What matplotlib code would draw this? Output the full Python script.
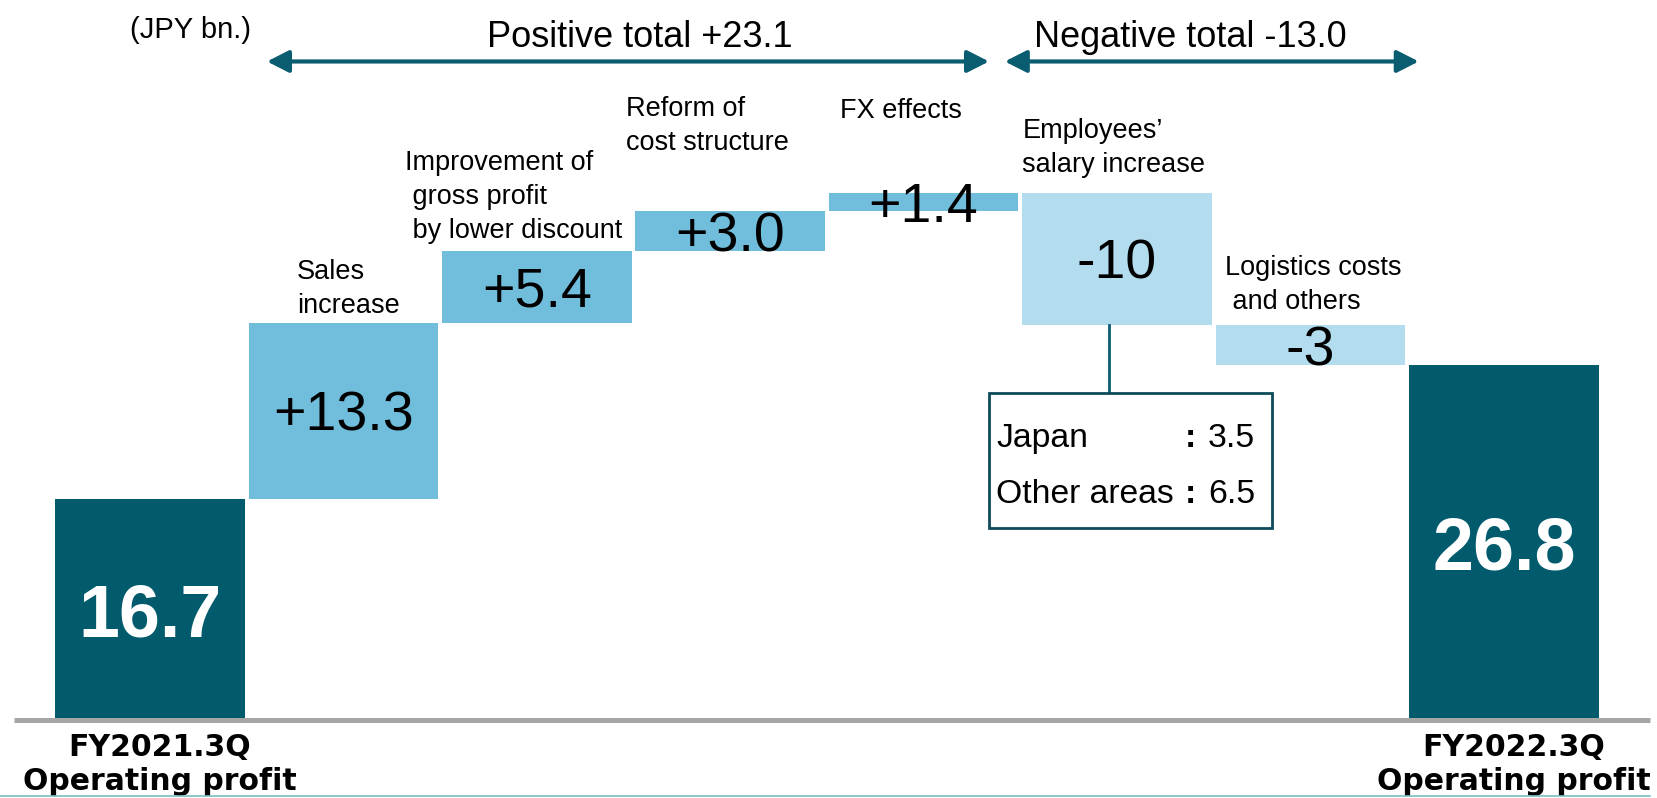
import numpy as np
import matplotlib.pyplot as plt
from matplotlib.patches import Rectangle

start_value = 16.7
end_value = 26.8
step_values = [13.3, 5.4, 3.0, 1.4, -10, -3]
step_texts = ["+13.3", "+5.4", "+3.0", "+1.4", "-10", "-3"]
step_labels = ["Sales\nincrease",
               "Improvement of\n gross profit\n by lower discount",
               "Reform of\ncost structure",
               "FX effects",
               "Employees\u2019\nsalary increase",
               "Logistics costs\n and others"]
# label offset from the bar's left edge / top (data units), last line baseline
label_dx = [0.25, -0.19, -0.05, 0.06, 0.0, 0.05]
label_dy = [0.72, 0.98, 4.62, 5.64, 1.56, 1.21]
end_labels = ["FY2021.3Q\nOperating profit", "FY2022.3Q\nOperating profit"]
salary_split = [("Japan", 3.5), ("Other areas", 6.5)]

dark = "#025b6c"
pos_col = "#70bedc"
neg_col = "#b3dcef"
arrow_col = "#0a5d70"
font = ["Liberation Sans", "DejaVu Sans"]

fig = plt.figure(figsize=(16.57, 7.98), dpi=100)
ax = fig.add_axes([0, 0, 1, 1])
ax.set_xlim(-0.7756, 7.792)
ax.set_ylim(-5.887, 54.34)
ax.axis("off")

w = 0.98
steps = np.array(step_values)
tops_cum = start_value + np.cumsum(steps)
prev = np.concatenate([[start_value], tops_cum[:-1]])
bottoms = np.minimum(prev, tops_cum)
heights = np.abs(steps)
xs = np.arange(1, len(steps) + 1)
colors = [pos_col if v > 0 else neg_col for v in steps]

ax.bar([0, len(steps) + 1], [start_value, end_value], width=w, color=dark)
ax.bar(xs, heights, bottom=bottoms, width=w, color=colors)

# base line
ax.plot([0.0085, 0.996], [0, 0], transform=ax.get_yaxis_transform(),
        color="#a6a6a6", lw=3.6, solid_capstyle="butt", zorder=3)
fig.add_artist(plt.Line2D([0, 0.996], [0.0025, 0.0025], color="#7fbcbc", lw=1.2))

for x, b, h, t in zip(xs, bottoms, heights, step_texts):
    ax.text(x, b + h / 2, t, ha="center", va="center_baseline",
            fontsize=40, family=font, color="black", zorder=4)

for i, (lab, dx, dy) in enumerate(zip(step_labels, label_dx, label_dy)):
    top = bottoms[i] + heights[i]
    ax.text(xs[i] - w / 2 + dx, top + dy, lab, ha="left", va="baseline",
            fontsize=19.5, family=font, linespacing=1.4)

ax.text(0, start_value / 2, f"{start_value:.1f}", ha="center", va="center_baseline",
        fontsize=53, fontweight="bold", color="white", family=font)
ax.text(len(steps) + 1, end_value / 2, f"{end_value:.1f}", ha="center",
        va="center_baseline", fontsize=53, fontweight="bold", color="white", family=font)

for x, lab in zip([0.05, len(steps) + 1.05], end_labels):
    ax.text(x, -5.28, lab, ha="center", va="baseline", fontsize=21.5,
            fontweight="bold", family="DejaVu Sans", linespacing=1.23)

ax.text(-0.103, 51.5, "(JPY bn.)", ha="left", va="baseline", fontsize=21, family=font)

# positive / negative total arrows
pos_total = steps[steps > 0].sum()
neg_total = steps[steps < 0].sum()
arrow_y = 49.7
arrow_kw = dict(arrowstyle="<|-|>,head_length=0.55,head_width=0.28", color=arrow_col,
                lw=3, mutation_scale=24, shrinkA=0, shrinkB=0)
ax.annotate("", xy=(4.338, arrow_y), xytext=(0.605, arrow_y), arrowprops=arrow_kw)
ax.annotate("", xy=(6.56, arrow_y), xytext=(4.42, arrow_y), arrowprops=arrow_kw)
ax.text(2.534, 50.8, f"Positive total +{pos_total:.1f}", ha="center", va="baseline",
        fontsize=26, family=font)
ax.text(5.377, 50.8, f"Negative total {neg_total:.1f}", ha="center", va="baseline",
        fontsize=26, family=font)

# breakdown of salary increase
box_l, box_r, box_b, box_t = 4.338, 5.80, 14.49, 24.68
ax.plot([4.96, 4.96], [bottoms[4], box_t], color=arrow_col, lw=2)
ax.add_patch(Rectangle((box_l, box_b), box_r - box_l, box_t - box_b,
                       facecolor="white", edgecolor="#0e4b5b", lw=2, zorder=3))
for (name, val), y in zip(salary_split, [20.6, 16.38]):
    ax.text(4.374, y, name, ha="left", va="baseline", fontsize=24.3, family=font, zorder=4)
    ax.text(5.377, y, ":", ha="center", va="baseline", fontsize=24.3,
            fontweight="bold", family=font, zorder=4)
    ax.text(5.471, y, f"{val:.1f}", ha="left", va="baseline", fontsize=24.3,
            family=font, zorder=4)

fig.savefig("out.png", dpi=100)
